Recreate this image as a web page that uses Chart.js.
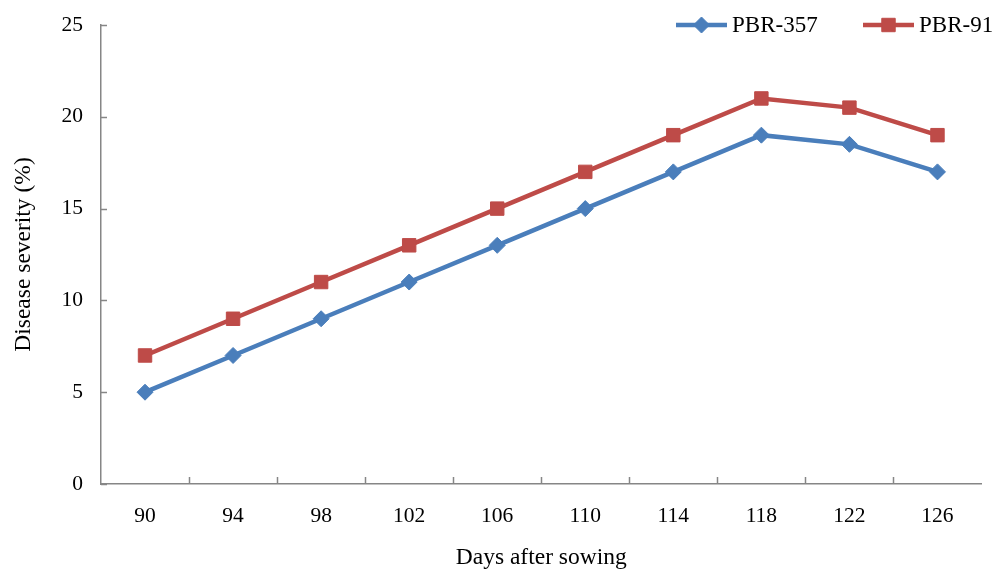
<!DOCTYPE html>
<html>
<head>
<meta charset="utf-8">
<script src="https://cdn.jsdelivr.net/npm/chart.js@4"></script>
<style>
  html, body { margin: 0; padding: 0; background: #fff; }
  #wrap { width: 992px; height: 569px; position: relative; }
</style>
</head>
<body>
<div id="wrap"><canvas id="chart"></canvas></div>
<script>
// Chart data
const days = ['90', '94', '98', '102', '106', '110', '114', '118', '122', '126'];
const pbr357 = [5, 7, 9, 11, 13, 15, 17, 19, 18.5, 17];
const pbr91 = [7, 9, 11, 13, 15, 17, 19, 21, 20.5, 19];
const yTicks = [0, 5, 10, 15, 20, 25];

const axisColor = '#868686';
const fontFamily = '"Liberation Serif", "Times New Roman", serif';

// Inward tick marks + legend with line and marker
const decorPlugin = {
    id: 'decor',
    afterDraw(chart) {
        const ctx = chart.ctx;
        const x = chart.scales.x;
        const y = chart.scales.y;
        const area = chart.chartArea;
        ctx.save();
        ctx.strokeStyle = axisColor;
        ctx.lineWidth = 1.5;
        ctx.beginPath();
        yTicks.forEach(v => {
            const py = Math.round(y.getPixelForValue(v)) + 0.5;
            ctx.moveTo(area.left, py);
            ctx.lineTo(area.left + 6, py);
        });
        const step = x.getPixelForValue(1) - x.getPixelForValue(0);
        for (let i = 1; i < days.length; i++) {
            const px = Math.round(x.getPixelForValue(i) - step / 2) + 0.5;
            ctx.moveTo(px, area.bottom);
            ctx.lineTo(px, area.bottom - 7);
        }
        ctx.stroke();

        // legend
        const items = [{ ds: 0, x0: 676 }, { ds: 1, x0: 863 }];
        const ly = 25;
        items.forEach(it => {
            const ds = chart.data.datasets[it.ds];
            ctx.strokeStyle = ds.borderColor;
            ctx.lineWidth = 4.5;
            ctx.beginPath();
            ctx.moveTo(it.x0, ly);
            ctx.lineTo(it.x0 + 51, ly);
            ctx.stroke();
            ctx.fillStyle = ds.backgroundColor;
            ctx.lineWidth = 1;
            Chart.helpers.drawPoint(ctx, {
                pointStyle: ds.pointStyle,
                radius: ds.pointRadius,
                borderWidth: 1
            }, it.x0 + 25.5, ly);
            ctx.fillStyle = '#000';
            ctx.font = '23px ' + fontFamily;
            ctx.textAlign = 'left';
            ctx.textBaseline = 'middle';
            ctx.fillText(ds.label, it.x0 + 56, ly + 1);
        });
        ctx.restore();
    }
};

new Chart(document.getElementById('chart'), {
    type: 'line',
    data: {
        labels: days,
        datasets: [{
            label: 'PBR-357',
            data: pbr357,
            borderColor: '#4a7ebb',
            backgroundColor: '#4a7ebb',
            borderWidth: 4.5,
            pointStyle: 'rectRot',
            pointRadius: 8,
            pointBorderWidth: 1,
            tension: 0
        }, {
            label: 'PBR-91',
            data: pbr91,
            borderColor: '#be4b48',
            backgroundColor: '#be4b48',
            borderWidth: 4.5,
            pointStyle: 'rect',
            pointRadius: 9.5,
            pointBorderWidth: 1,
            tension: 0
        }]
    },
    options: {
        responsive: true,
        maintainAspectRatio: false,
        animation: false,
        layout: { padding: { top: 25, right: 0, left: 0, bottom: 0 } },
        plugins: {
            legend: { display: false },
            tooltip: { enabled: false }
        },
        scales: {
            x: {
                offset: true,
                grid: { display: false, drawTicks: false },
                border: { display: true, color: axisColor, width: 1.5 },
                ticks: {
                    color: '#000',
                    padding: 19,
                    maxRotation: 0,
                    font: { family: fontFamily, size: 21.5 }
                },
                title: {
                    display: true,
                    text: 'Days after sowing',
                    color: '#000',
                    padding: { top: -3, bottom: -3 },
                    font: { family: fontFamily, size: 23.5 }
                },
                afterFit(scale) { scale.height = 85; }
            },
            y: {
                min: 0,
                max: 25,
                grid: { display: false, drawTicks: false },
                border: { display: true, color: axisColor, width: 1.5 },
                afterBuildTicks(scale) {
                    scale.ticks = yTicks.map(v => ({ value: v }));
                },
                ticks: {
                    color: '#000',
                    padding: 18,
                    font: { family: fontFamily, size: 21.5 }
                },
                title: {
                    display: true,
                    text: 'Disease severity (%)',
                    color: '#000',
                    padding: { top: 10, bottom: 0 },
                    font: { family: fontFamily, size: 23.5 }
                },
                afterFit(scale) {
                    scale.width = 101;
                    scale.paddingTop = 0;
                    scale.paddingBottom = 0;
                }
            }
        }
    },
    plugins: [decorPlugin]
});
</script>
</body>
</html>
